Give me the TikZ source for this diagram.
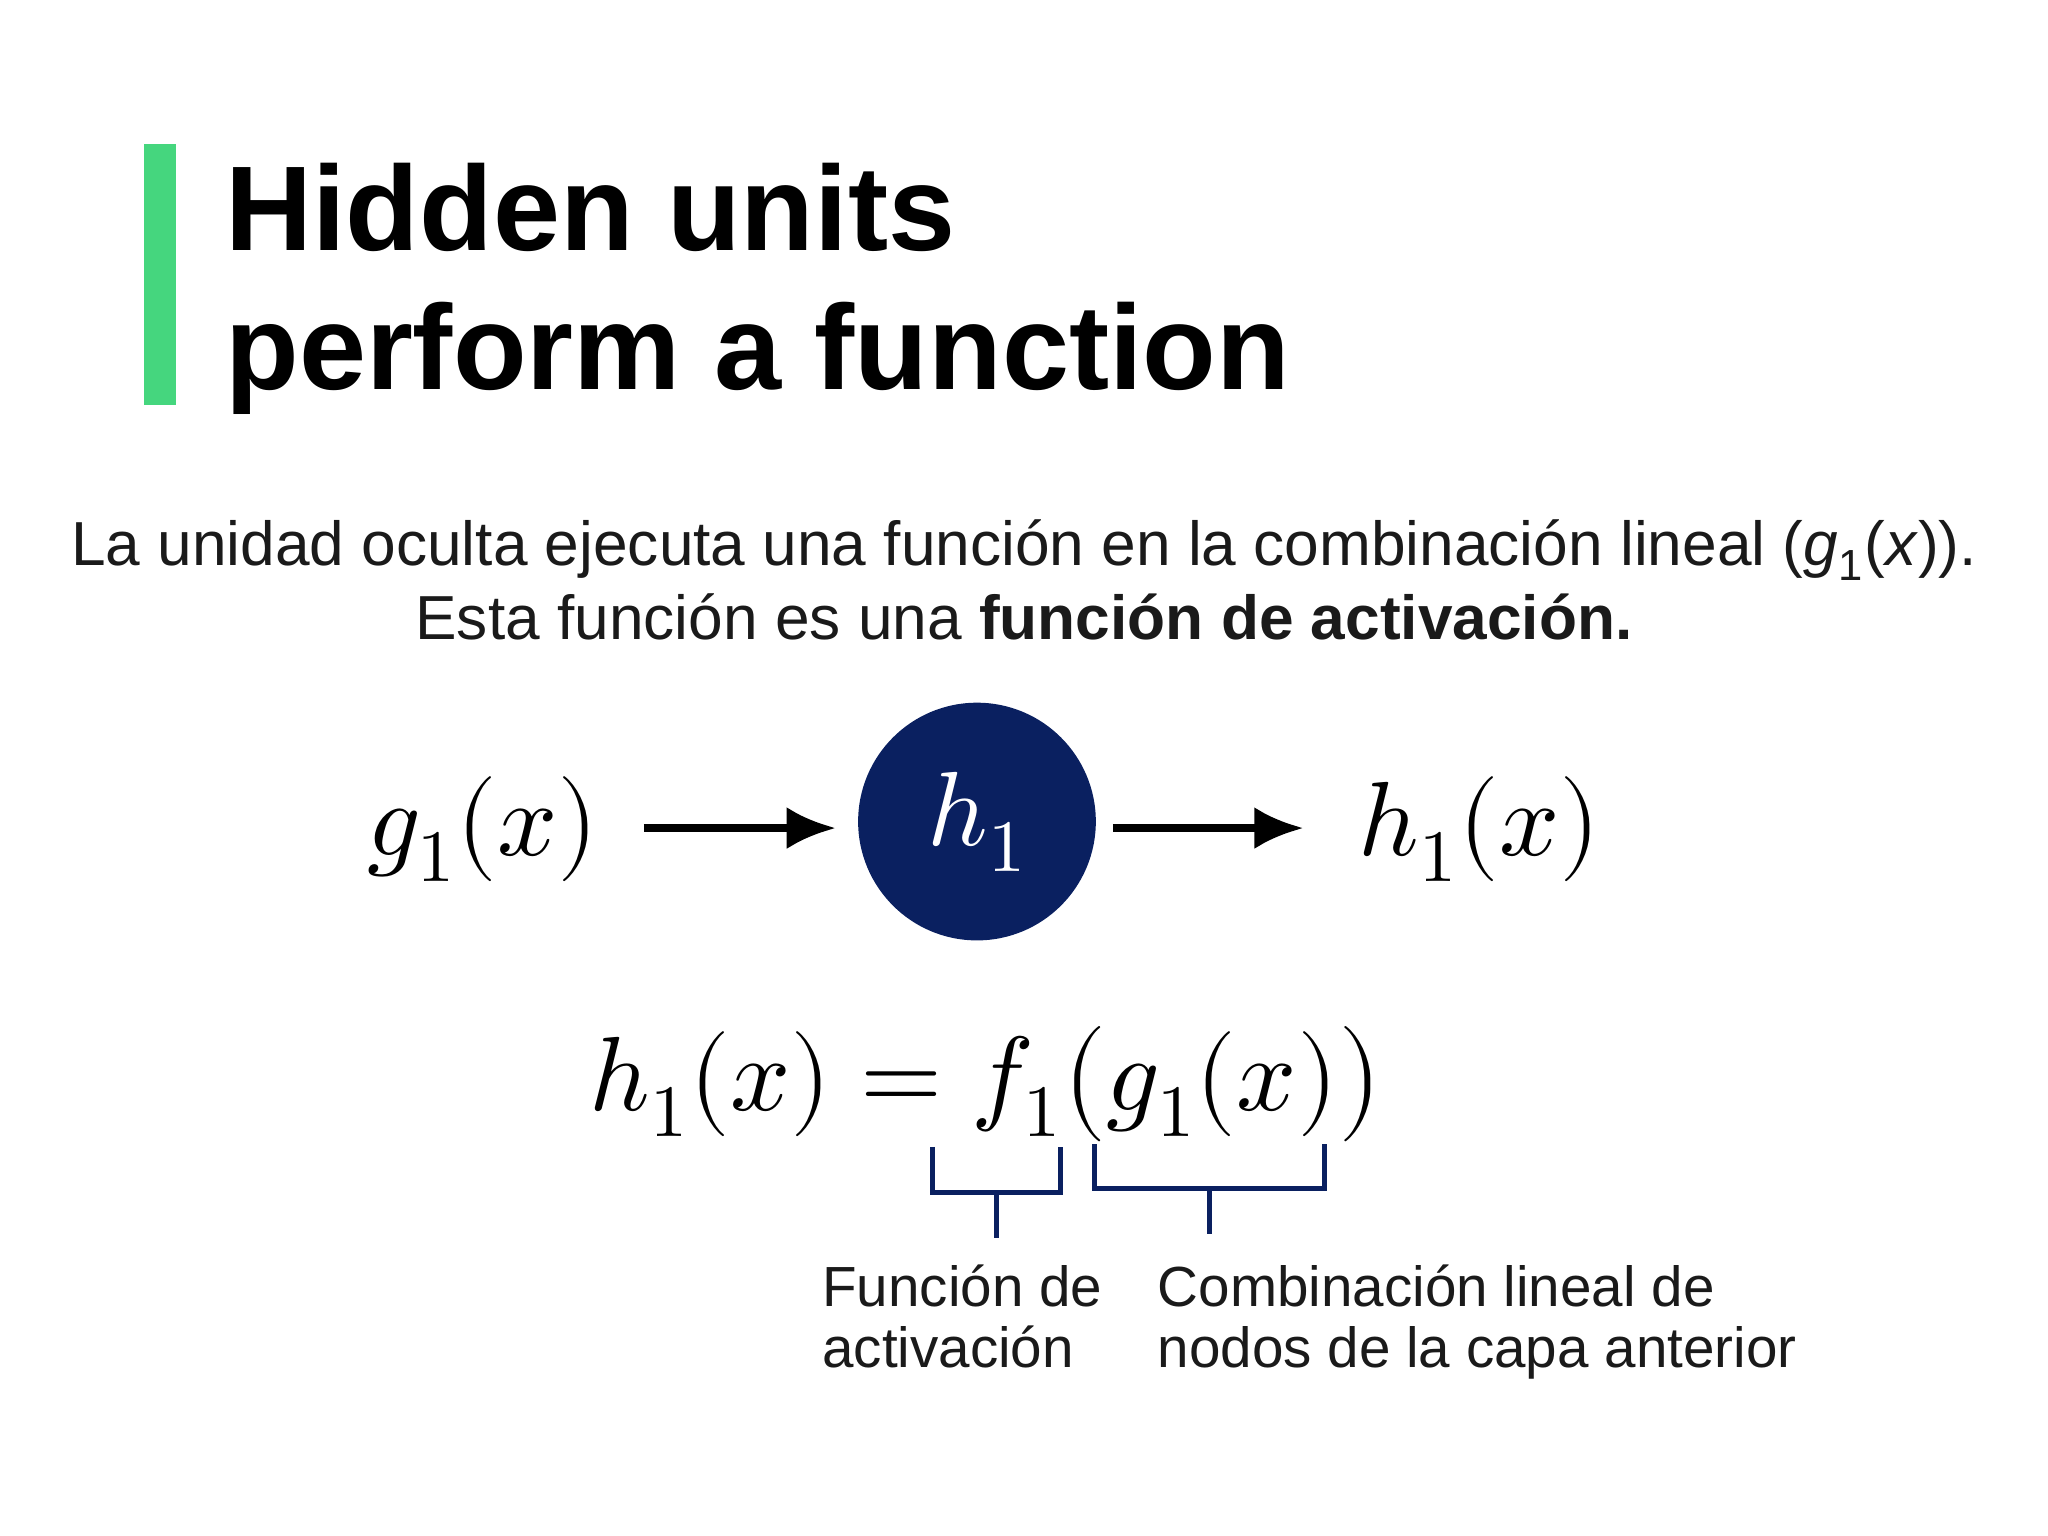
\documentclass[tikz,border=0pt]{standalone}
\usepackage{fontspec}
\setmainfont{Liberation Sans}
\usepackage{amsmath}
\usepackage{unicode-math}
\setmathfont{Latin Modern Math}
\usetikzlibrary{arrows.meta}
\definecolor{navy}{HTML}{0A2060}
\definecolor{accent}{HTML}{45D67E}
\definecolor{txt}{HTML}{1A1A1A}
\begin{document}
\begin{tikzpicture}[x=0.01306cm,y=-0.01306cm,
  arr/.style={-{Latex[length=14pt,width=12pt]},line width=2.2pt},
  brk/.style={draw=navy,line width=1.4pt},
  lbl/.style={anchor=north west,align=left,font=\fontsize{16.1}{17.2}\selectfont,text=txt,inner sep=0pt},
  mth/.style={font=\fontsize{30}{36}\selectfont}]
\useasboundingbox (0,0) rectangle (1568,1176);
\fill[accent] (110,110) rectangle (135,310);
\node[anchor=base west,inner sep=0pt,font=\fontsize{34.3}{40}\selectfont\bfseries] (t1) at (172,192) {Hidden units};
\node[anchor=base west,inner sep=0pt,font=\fontsize{34.3}{40}\selectfont\bfseries] (t2) at (172,298) {perform a function};
\node[anchor=base,inner sep=0pt,font=\fontsize{17.7}{22}\selectfont,text=txt] (s1) at (784,433) {La unidad oculta ejecuta una función en la combinación lineal (\textit{g}\textsubscript{1}(\textit{x})).};
\node[anchor=base,inner sep=0pt,font=\fontsize{17.7}{22}\selectfont,text=txt] (s2) at (784,490) {Esta función es una \textbf{función de activación.}};
\node[circle,fill=navy,minimum size=182*0.01306cm,inner sep=0pt,text=white,mth] (h) at (748,629) {$h_1$};
\node[mth] (g) at (370,635) {$g_1(x)$};
\node[mth] (o) at (1133,635) {$h_1(x)$};
\coordinate (a1) at (493,634);
\coordinate (a1e) at (640,634);
\coordinate (a2) at (852,634);
\coordinate (a2e) at (998,634);
\draw[arr] (a1) -- (a1e);
\draw[arr] (a2) -- (a2e);
\node[mth,anchor=base] (eq) at (755,850) {$h_1(x)=f_1\big(g_1(x)\big)$};
\coordinate (b1) at (763,948);
\coordinate (b2) at (926,945);
\draw[brk] (714,878) -- (714,913) -- (812,913) -- (812,878);
\draw[brk] (763,913) -- (b1);
\draw[brk] (838,876) -- (838,910) -- (1014,910) -- (1014,876);
\draw[brk] (926,910) -- (b2);
\node[lbl] (l1) at (629,968) {Función de\\activación};
\node[lbl] (l2) at (886,968) {Combinación lineal de\\nodos de la capa anterior};
\end{tikzpicture}
\end{document}
